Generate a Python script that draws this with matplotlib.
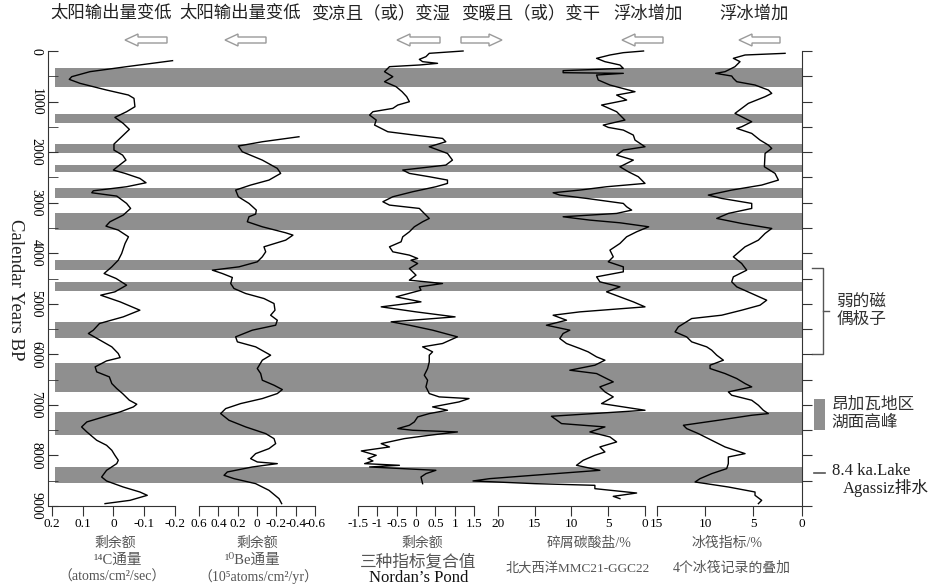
import matplotlib
matplotlib.use('Agg')
import matplotlib.pyplot as plt
from matplotlib.patches import Polygon, Rectangle
from matplotlib.lines import Line2D

FONTS = ['Liberation Serif', 'DejaVu Serif', 'Noto Sans CJK SC']
plt.rcParams['font.family'] = FONTS

# ---------------- data ----------------
# grey bands, calendar years BP
band_start = [330, 1250, 1840, 2250, 2710, 3200, 4130, 4565, 5360, 6170, 7150, 8220]
band_end = [710, 1420, 2015, 2390, 2905, 3540, 4330, 4745, 5670, 6740, 7590, 8540]

# 1. 14C flux residual
c14_year = [191, 310, 409, 508, 561, 640, 772, 871, 937, 1102, 1201, 1313, 1432, 1550,
            1696, 1841, 1960, 2059, 2158, 2290, 2355, 2421, 2520, 2606, 2685, 2765, 2804,
            2870, 3015, 3114, 3246, 3378, 3464, 3543, 3675, 3807, 4005, 4137, 4269, 4401,
            4500, 4632, 4764, 4830, 4962, 5127, 5259, 5390, 5522, 5588, 5720, 5852, 5984,
            6064, 6130, 6248, 6347, 6446, 6578, 6677, 6776, 6908, 6987, 7040, 7139, 7238,
            7337, 7436, 7535, 7700, 7799, 7898, 7997, 8096, 8162, 8294, 8426, 8505, 8624,
            8723, 8789, 8888, 8953]
c14_val = [-0.192, -0.043, 0.076, 0.135, 0.143, 0.108, 0.022, -0.049, -0.067, -0.070,
           -0.043, -0.005, -0.032, -0.052, -0.027, -0.002, -0.002, -0.030, -0.041, -0.013,
           0.000, -0.038, -0.086, -0.106, -0.043, 0.065, 0.070, -0.011, -0.043, -0.056,
           -0.032, 0.011, 0.024, -0.016, -0.049, -0.038, -0.027, -0.016, 0.005, 0.030,
           -0.009, -0.043, -0.005, 0.041, -0.022, -0.086, -0.032, 0.045, 0.065, 0.081,
           0.043, 0.005, -0.016, -0.022, 0.022, 0.059, 0.054, 0.013, 0.005, -0.011, -0.030,
           -0.052, -0.076, -0.065, -0.022, 0.032, 0.086, 0.103, 0.086, 0.054, 0.022, 0.005,
           -0.005, -0.016, -0.011, 0.022, 0.038, 0.022, -0.032, -0.086, -0.110, -0.054, 0.027]

# 2. 10Be flux residual
be_year = [1696, 1795, 1880, 1993, 2158, 2322, 2421, 2553, 2652, 2751, 2883, 3015, 3147,
           3226, 3279, 3378, 3477, 3596, 3642, 3741, 3873, 3972, 4071, 4170, 4269, 4335,
           4401, 4480, 4599, 4698, 4797, 4896, 4995, 5127, 5226, 5325, 5424, 5522, 5654,
           5753, 5852, 6017, 6116, 6281, 6380, 6512, 6611, 6697, 6776, 6875, 6974, 7073,
           7172, 7304, 7436, 7568, 7667, 7766, 7865, 7964, 8063, 8129, 8162, 8228, 8327,
           8393, 8459, 8558, 8690, 8855, 8953]
be_val = [-0.434, -0.055, 0.193, 0.152, -0.055, -0.210, -0.245, -0.124, 0.066, 0.221,
          0.193, 0.083, 0.007, 0.014, 0.083, 0.100, -0.055, -0.297, -0.372, -0.297, -0.072,
          -0.090, -0.055, -0.003, 0.186, 0.462, 0.359, 0.255, 0.272, 0.238, 0.117, -0.072,
          -0.176, -0.186, -0.141, -0.210, -0.193, 0.048, 0.221, 0.203, 0.014, -0.141,
          -0.055, -0.003, -0.038, -0.055, -0.176, -0.262, -0.210, -0.055, 0.169, 0.324,
          0.376, 0.290, 0.117, -0.090, -0.176, -0.193, -0.124, 0.014, 0.066, -0.003, -0.210,
          0.048, 0.307, 0.341, 0.238, 0.014, -0.124, -0.228, -0.255]

# 3. Nordan's Pond composite residual
np_year = [0, 46, 112, 165, 211, 244, 277, 310, 409, 508, 607, 706, 805, 904, 1003, 1069,
           1135, 1201, 1267, 1366, 1465, 1597, 1663, 1729, 1795, 1894, 2026, 2158, 2257,
           2355, 2421, 2487, 2553, 2619, 2685, 2784, 2883, 2982, 3048, 3114, 3213, 3312,
           3378, 3477, 3576, 3675, 3774, 3873, 3972, 4038, 4104, 4137, 4203, 4302, 4434,
           4533, 4599, 4665, 4731, 4863, 4962, 5061, 5160, 5259, 5357, 5424, 5522, 5654,
           5786, 5852, 5951, 6017, 6149, 6281, 6413, 6512, 6644, 6776, 6842, 6875, 6941,
           7040, 7106, 7172, 7238, 7337, 7403, 7469, 7502, 7535, 7601, 7667, 7766, 7832,
           7911, 7997, 8063, 8109, 8162, 8195, 8228, 8294, 8360, 8426, 8558]
np_val = [1.217, 0.343, 0.257, 0.086, 0.171, 0.557, 0.086, -0.686, -0.814, -0.600, -0.814,
          -0.514, -0.360, -0.240, -0.171, -0.471, -0.600, -1.114, -1.200, -1.029, -1.071,
          -0.729, -0.043, 0.686, 0.771, 0.343, 0.814, 0.943, 0.771, -0.343, -0.171, 0.343,
          0.814, 0.814, 0.514, -0.086, -0.600, -0.857, -0.686, 0.086, 0.214, 0.343, 0.171,
          -0.043, -0.171, -0.343, -0.386, -0.686, -0.600, -0.171, 0.043, -0.129, 0.043,
          -0.171, 0.000, -0.171, 0.686, 0.086, 0.129, -0.514, 0.129, -0.900, 0.000, 1.011,
          -0.643, -0.171, 0.429, 1.071, 0.686, 0.171, 0.429, 0.343, 0.343, 0.300, 0.214,
          0.300, 0.257, 0.343, 0.600, 1.371, 1.114, 0.429, 0.814, 0.343, 0.043, -0.043,
          -0.171, -0.471, -0.086, 1.071, 0.343, -0.300, -0.900, -0.686, -1.414, -1.029,
          -1.243, -1.114, -1.329, -0.429, -1.200, 0.514, 0.257, 0.129, 0.171]

# 4. detrital carbonate, MC21-GGC22 (%)
dc_year = [0, 33, 79, 145, 211, 277, 343, 389, 429, 442, 475, 574, 673, 805, 871, 970, 1069,
           1201, 1366, 1465, 1511, 1564, 1663, 1762, 1894, 1960, 2059, 2158, 2290, 2388,
           2487, 2619, 2685, 2751, 2804, 2850, 2916, 3015, 3081, 3147, 3213, 3279, 3345,
           3398, 3477, 3576, 3675, 3807, 3939, 4071, 4170, 4269, 4368, 4467, 4566, 4665,
           4764, 4863, 4962, 5061, 5160, 5226, 5325, 5424, 5522, 5588, 5687, 5786, 5885,
           5951, 6050, 6116, 6215, 6314, 6380, 6479, 6545, 6644, 6743, 6842, 6974, 7106,
           7225, 7370, 7436, 7535, 7634, 7733, 7832, 7931, 7997, 8096, 8195, 8294, 8393,
           8459, 8505, 8558, 8591, 8657, 8743, 8809, 8855]
dc_val = [0.2, 2.95, 4.77, 6.59, 5.45, 3.41, 2.95, 11.14, 11.14, 2.95, 6.59, 6.36, 4.77,
          1.36, 3.86, 2.50, 5.91, 3.86, 2.73, 5.68, 5.00, 2.95, 1.59, 1.36, 0.00, 2.95, 3.86,
          1.59, 3.41, 2.27, 0.91, 0.00, 5.23, 8.86, 12.50, 11.59, 7.95, 2.95, 2.50, 1.82,
          3.86, 11.14, 7.50, 3.41, -0.5, 1.14, 2.50, 3.41, 4.77, 4.32, 5.00, 2.95, 2.95,
          6.59, 6.14, 3.41, 5.23, 3.41, 1.59, 0.00, 8.86, 12.50, 10.68, 13.41, 10.23, 11.14,
          11.59, 10.68, 8.86, 7.73, 6.59, 5.45, 6.82, 10.23, 6.59, 5.23, 4.32, 6.14, 5.45,
          4.32, 5.91, 0.00, 12.73, 11.36, 5.45, 7.50, 4.77, 3.86, 6.14, 5.45, 6.82, 8.41,
          9.32, 6.14, 15.23, 21.14, 23.4, 15.0, 6.82, 6.82, 1.14, 4.32, 3.41]

# 5. stacked ice-rafted debris index (%)
ird_year = [46, 79, 145, 211, 310, 409, 442, 495, 541, 607, 673, 772, 838, 904, 1036, 1135,
            1234, 1366, 1399, 1498, 1531, 1630, 1762, 1861, 1927, 2026, 2290, 2421, 2553,
            2652, 2751, 2850, 2916, 3015, 3114, 3213, 3312, 3411, 3510, 3609, 3741, 3873,
            4071, 4203, 4335, 4467, 4566, 4665, 4797, 4929, 5028, 5127, 5226, 5292, 5457,
            5556, 5655, 5753, 5852, 5918, 6017, 6116, 6215, 6281, 6380, 6479, 6578, 6644,
            6743, 6809, 6908, 7007, 7106, 7172, 7205, 7304, 7403, 7469, 7568, 7700, 7832,
            7964, 8030, 8162, 8261, 8360, 8459, 8525, 8624, 8723, 8789, 8888, 8953]
ird_val = [1.72, 5.86, 7.07, 6.38, 6.90, 7.93, 8.90, 7.24, 7.07, 6.72, 4.83, 3.45, 3.10,
           3.79, 5.52, 6.21, 6.90, 5.52, 5.17, 6.21, 6.72, 5.17, 4.31, 3.45, 3.10, 3.79,
           3.86, 2.76, 2.41, 4.14, 7.24, 9.66, 8.28, 5.17, 5.17, 7.59, 8.79, 6.21, 3.10,
           3.79, 4.48, 5.86, 7.07, 6.21, 5.69, 7.07, 7.24, 6.72, 5.17, 3.62, 4.31, 6.21,
           8.28, 11.38, 12.76, 13.10, 11.90, 11.38, 9.83, 9.31, 8.79, 8.10, 9.48, 9.48, 7.93,
           6.72, 5.86, 5.17, 7.59, 7.24, 5.17, 4.48, 3.97, 3.45, 5.17, 8.62, 12.24, 11.90,
           10.69, 9.31, 7.93, 5.86, 7.59, 7.59, 7.76, 9.31, 10.52, 11.03, 7.59, 4.83, 4.83,
           4.14, 4.48]

c14_ticks = [0.2, 0.1, 0, -0.1, -0.2]
c14_labels = ['0.2', '0.1', '0', '-0.1', '-0.2']
be_ticks = [0.6, 0.4, 0.2, 0, -0.2, -0.4, -0.6]
be_labels = ['0.6', '0.4', '0.2', '0', '-0.2', '-0.4', '-0.6']
np_ticks = [-1.5, -1, -0.5, 0, 0.5, 1, 1.5]
np_labels = ['-1.5', '-1', '-0.5', '0', '0.5', '1', '1.5']
dc_ticks = [20, 15, 10, 5, 0]
dc_labels = ['20', '15', '10', '5', '0']
ird_ticks = [15, 10, 5, 0]
ird_labels = ['15', '10', '5', '0']

top_labels = ['太阳输出量变低', '太阳输出量变低', '变凉且（或）变湿', '变暖且（或）变干', '浮冰增加', '浮冰增加']

# ---------------- figure ----------------
W, H = 929, 586
fig = plt.figure(figsize=(W / 100, H / 100), dpi=100)


def fx(px):
    return px / W


def fy(py):
    return 1 - py / H


Y_TOP, Y_BOT = 51, 506
AX_B = fy(Y_BOT)
AX_H = (Y_BOT - Y_TOP) / H
SPINE = '#333333'
BAND = '#8f8f8f'

# background axis: year scale + grey bands
ax = fig.add_axes([fx(48), AX_B, fx(802) - fx(48), AX_H])
ax.set_xlim(0, 1)
ax.set_ylim(9000, 0)
for s in ['top', 'bottom', 'right']:
    ax.spines[s].set_visible(False)
ax.spines['left'].set_color(SPINE)
ax.set_xticks([])
ax.set_yticks(range(0, 9001, 1000))
ax.set_yticks(range(500, 9000, 1000), minor=True)
ax.tick_params(axis='y', which='both', direction='in', length=7, color=SPINE,
               labelsize=10, pad=4, labelrotation=-90)
for lab in ax.get_yticklabels():
    lab.set_va('center')
for a, b in zip(band_start, band_end):
    ax.axhspan(a, b, xmin=0.0093, xmax=1, color=BAND, lw=0, zorder=0)

ax2 = ax.twinx()
ax2.set_ylim(9000, 0)
for s in ['top', 'bottom', 'left']:
    ax2.spines[s].set_visible(False)
ax2.spines['right'].set_color(SPINE)
ax2.set_yticks(range(0, 9001, 500))
ax2.set_yticklabels([])
ax2.tick_params(axis='y', direction='out', length=7, color=SPINE)

fig.text(fx(15), fy(290), 'Calendar Years BP', rotation=-90, ha='center', va='center',
         fontsize=13.5, color='#222222')

# data panels
panels = [
    (51.7, 175, (0.2, -0.2), c14_ticks, c14_labels, c14_val, c14_year),
    (199, 315, (0.6, -0.6), be_ticks, be_labels, be_val, be_year),
    (358, 474, (-1.5, 1.5), np_ticks, np_labels, np_val, np_year),
    (498, 645, (20, 0), dc_ticks, dc_labels, dc_val, dc_year),
    (656.7, 801.7, (15, 0), ird_ticks, ird_labels, ird_val, ird_year),
]
for x0, x1, xlim, ticks, labels, vals, years in panels:
    pa = fig.add_axes([fx(x0), AX_B, (x1 - x0) / W, AX_H])
    pa.patch.set_alpha(0)
    pa.set_xlim(*xlim)
    pa.set_ylim(9000, 0)
    for s in ['top', 'left', 'right']:
        pa.spines[s].set_visible(False)
    pa.spines['bottom'].set_color(SPINE)
    pa.set_yticks([])
    pa.set_xticks(ticks)
    pa.set_xticklabels(labels)
    pa.tick_params(axis='x', direction='out', length=7, pad=1.5, labelsize=9.5, color=SPINE)
    pa.plot(vals, years, color='black', lw=1.0, clip_on=False)

# labels under the panels
GREY = '#555555'
fig.text(fx(115), fy(543), '剩余额', ha='center', va='center', fontsize=10, color=GREY)
fig.text(fx(118), fy(560), '¹⁴C通量', ha='center', va='center', fontsize=10.5, color=GREY)
fig.text(fx(112), fy(577), '（atoms/cm²/sec）', ha='center', va='center', fontsize=10, color=GREY)
fig.text(fx(257), fy(543), '剩余额', ha='center', va='center', fontsize=10, color=GREY)
fig.text(fx(252), fy(560), '¹⁰Be通量', ha='center', va='center', fontsize=10.5, color=GREY)
fig.text(fx(258), fy(577), '（10⁵atoms/cm²/yr）', ha='center', va='center', fontsize=10, color=GREY)
fig.text(fx(422), fy(543), '剩余额', ha='center', va='center', fontsize=10, color=GREY)
fig.text(fx(418), fy(562), '三种指标复合值', ha='center', va='center', fontsize=12, color=GREY)
fig.text(fx(419), fy(578), 'Nordan’s Pond', ha='center', va='center', fontsize=12, color='#111111')
fig.text(fx(589), fy(543), '碎屑碳酸盐/%', ha='center', va='center', fontsize=10, color=GREY)
fig.text(fx(578), fy(568), '北大西洋MMC21-GGC22', ha='center', va='center', fontsize=9.5, color=GREY)
fig.text(fx(727), fy(543), '冰筏指标/%', ha='center', va='center', fontsize=10, color=GREY)
fig.text(fx(732), fy(568), '4个冰筏记录的叠加', ha='center', va='center', fontsize=10, color=GREY)

# labels and hollow arrows at the top
for x, t in zip([111, 240, 381, 531, 648, 754], top_labels):
    fig.text(fx(x), fy(14), t, ha='center', va='center', fontsize=12.5, color='#222222')


def hollow_arrow(x0, x1, yc, left=True, hl=13, hh=6, sh=3):
    if left:
        pts = [(x0, yc), (x0 + hl, yc - hh), (x0 + hl, yc - sh), (x1, yc - sh),
               (x1, yc + sh), (x0 + hl, yc + sh), (x0 + hl, yc + hh)]
    else:
        pts = [(x1, yc), (x1 - hl, yc - hh), (x1 - hl, yc - sh), (x0, yc - sh),
               (x0, yc + sh), (x1 - hl, yc + sh), (x1 - hl, yc + hh)]
    pts = [(fx(px), fy(py)) for px, py in pts]
    fig.patches.append(Polygon(pts, closed=True, transform=fig.transFigure,
                               facecolor='white', edgecolor='#9a9a9a', lw=1.0))


for x0, x1, left in [(125, 167, True), (225, 266, True), (397, 440, True),
                     (461, 502, False), (622, 663, True), (739, 780, True)]:
    hollow_arrow(x0, x1, 40, left)

# right-hand annotations (x in axes fraction, y in years)
tr = ax.get_yaxis_transform()
ax.add_line(Line2D([1.0135, 1.028, 1.028, 1.0135], [4300, 4300, 6000, 6000], transform=tr,
                   color='#555555', lw=1.0, clip_on=False))
ax.add_line(Line2D([1.028, 1.036], [5150, 5150], transform=tr, color='#555555', lw=1.0,
                   clip_on=False))
ax.text(1.046, 5150, '弱的磁\n偶极子', transform=tr, ha='left', va='center', fontsize=12,
        color='#333333', linespacing=1.15)
ax.add_patch(Rectangle((1.016, 6880), 0.0145, 620, transform=tr, facecolor=BAND, lw=0,
                       clip_on=False))
ax.text(1.039, 7180, '昂加瓦地区\n湖面高峰', transform=tr, ha='left', va='center', fontsize=12,
        color='#333333', linespacing=1.15)
ax.add_line(Line2D([1.0165, 1.031], [8350, 8350], transform=tr, color='#555555', lw=1.2,
                   clip_on=False))
ax.text(1.040, 8300, '8.4 ka.Lake', transform=tr, ha='left', va='center', fontsize=12,
        color='#222222')
ax.text(1.054, 8650, 'Agassiz排水', transform=tr, ha='left', va='center', fontsize=12,
        color='#222222')

fig.savefig('out.png', dpi=100)
